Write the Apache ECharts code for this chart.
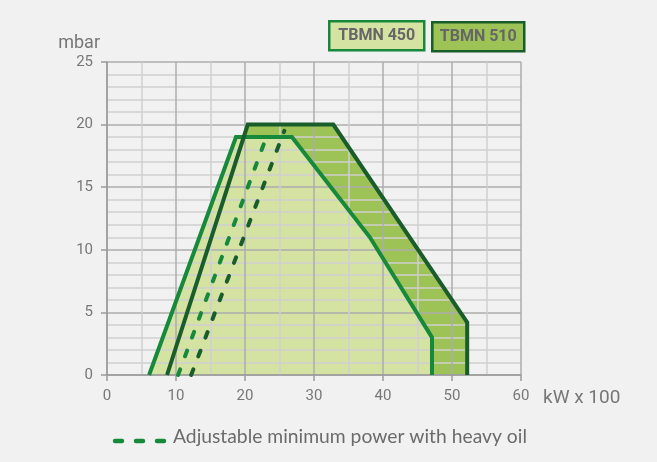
<!DOCTYPE html>
<html>
<head>
<meta charset="utf-8">
<script src="https://cdn.jsdelivr.net/npm/echarts@6/dist/echarts.min.js"></script>
<style>
  html, body { margin: 0; padding: 0; background: #f1f1f1; }
  #chart { width: 657px; height: 462px; }
</style>
</head>
<body>
<div id="chart"></div>
<script>
// working field outlines (kW x 100 / mbar)
var x450 = [6.1, 18.7, 26.8, 38.1, 47.1, 47.1];
var y450 = [0, 19, 19, 11, 3, 0];
var x510 = [8.7, 20.4, 32.8, 52.2, 52.2];
var y510 = [0, 20, 20, 4.2, 0];

// minimum power with heavy oil
var dash450X = [10.3, 23.1];
var dash450Y = [0, 19];
var dash510X = [12.2, 25.7];
var dash510Y = [0, 19.5];

var legendNames = ['TBMN 450', 'TBMN 510'];
var noteText = 'Adjustable minimum power with heavy oil';

function pairs(xs, ys) {
    var out = [];
    for (var i = 0; i < xs.length; i++) {
        out.push([xs[i], ys[i]]);
    }
    return out;
}

var c450 = '#17893a';
var c510 = '#195d2b';
var fill450 = '#d4e3a2';
var fill510 = '#9dc256';
var gray = '#777777';

var myChart = echarts.init(document.getElementById('chart'));

var option = {
    backgroundColor: '#f1f1f1',
    animation: false,
    grid: { left: 107, right: 136, top: 62, bottom: 87 },
    xAxis: {
        type: 'value',
        min: 0, max: 60, interval: 10,
        z: 3,
        name: 'kW x 100',
        nameLocation: 'end',
        nameGap: 22,
        nameTextStyle: { color: gray, fontFamily: 'Roboto', fontSize: 19, verticalAlign: 'top', padding: [14, 0, 0, 0] },
        axisLine: { show: true, lineStyle: { color: '#9a9a9a', width: 1.5 } },
        axisTick: { show: true, length: 6, lineStyle: { color: '#9a9a9a', width: 1.5 } },
        axisLabel: { color: gray, fontFamily: 'Roboto', fontSize: 15, margin: 14 },
        splitLine: { show: true, lineStyle: { color: '#adadad', width: 1.5 } },
        minorTick: { show: false, splitNumber: 2 },
        minorSplitLine: { show: true, lineStyle: { color: '#d0d0d0', width: 1.5 } }
    },
    yAxis: {
        type: 'value',
        min: 0, max: 25, interval: 5,
        z: 3,
        name: 'mbar',
        nameLocation: 'end',
        nameGap: 10,
        nameTextStyle: { color: gray, fontFamily: 'Roboto', fontSize: 18, align: 'right', padding: [0, 7, 0, 0] },
        axisLine: { show: true, lineStyle: { color: '#9a9a9a', width: 1.5 } },
        axisTick: { show: true, length: 6, lineStyle: { color: '#9a9a9a', width: 1.5 } },
        axisLabel: { color: gray, fontFamily: 'Roboto', fontSize: 15, margin: 14 },
        splitLine: { show: true, lineStyle: { color: '#adadad', width: 1.5 } },
        minorTick: { show: false, splitNumber: 5 },
        minorSplitLine: { show: true, lineStyle: { color: '#d0d0d0', width: 1.5 } }
    },
    series: [
        {
            type: 'line', z: 1, symbol: 'none', silent: true,
            data: pairs(x510, y510),
            lineStyle: { width: 0 },
            areaStyle: { color: fill510, opacity: 1 }
        },
        {
            type: 'line', z: 2, symbol: 'none', silent: true,
            data: pairs(x450, y450),
            lineStyle: { width: 0 },
            areaStyle: { color: fill450, opacity: 1 }
        },
        {
            type: 'line', z: 5, symbol: 'none',
            data: pairs(dash450X, dash450Y),
            lineStyle: { color: c450, width: 4, type: [6, 14], cap: 'round' }
        },
        {
            type: 'line', z: 5, symbol: 'none',
            data: pairs(dash510X, dash510Y),
            lineStyle: { color: c510, width: 4, type: [6, 14], cap: 'round' }
        },
        {
            type: 'line', z: 6, symbol: 'none',
            data: pairs(x450, y450),
            lineStyle: { color: c450, width: 4, join: 'miter' }
        },
        {
            type: 'line', z: 7, symbol: 'none',
            data: pairs(x510, y510),
            lineStyle: { color: c510, width: 4, join: 'miter' }
        }
    ],
    graphic: [
        // legend boxes
        {
            type: 'group', left: 328, top: 20,
            children: [
                { type: 'rect', shape: { x: 0, y: 0, width: 95, height: 29 }, style: { fill: fill450, stroke: c450, lineWidth: 2.5 } },
                { type: 'text', x: 47.5, y: 15, style: { text: legendNames[0], fill: '#666666', font: 'bold 16px Roboto', align: 'center', verticalAlign: 'middle' } }
            ]
        },
        {
            type: 'group', left: 431, top: 21,
            children: [
                { type: 'rect', shape: { x: 0, y: 0, width: 92, height: 29 }, style: { fill: fill510, stroke: c510, lineWidth: 2.5 } },
                { type: 'text', x: 46, y: 15, style: { text: legendNames[1], fill: '#666666', font: 'bold 16px Roboto', align: 'center', verticalAlign: 'middle' } }
            ]
        },
        // bottom note
        {
            type: 'line', shape: { x1: 115, y1: 441, x2: 164, y2: 441 },
            style: { stroke: c450, lineWidth: 4.5, lineDash: [7, 14], lineCap: 'round' }
        },
        {
            type: 'text', x: 173, y: 437,
            style: { text: noteText, fill: '#6b6b6b', font: '19.3px Lato', verticalAlign: 'middle' }
        }
    ]
};

myChart.setOption(option);
</script>
</body>
</html>
